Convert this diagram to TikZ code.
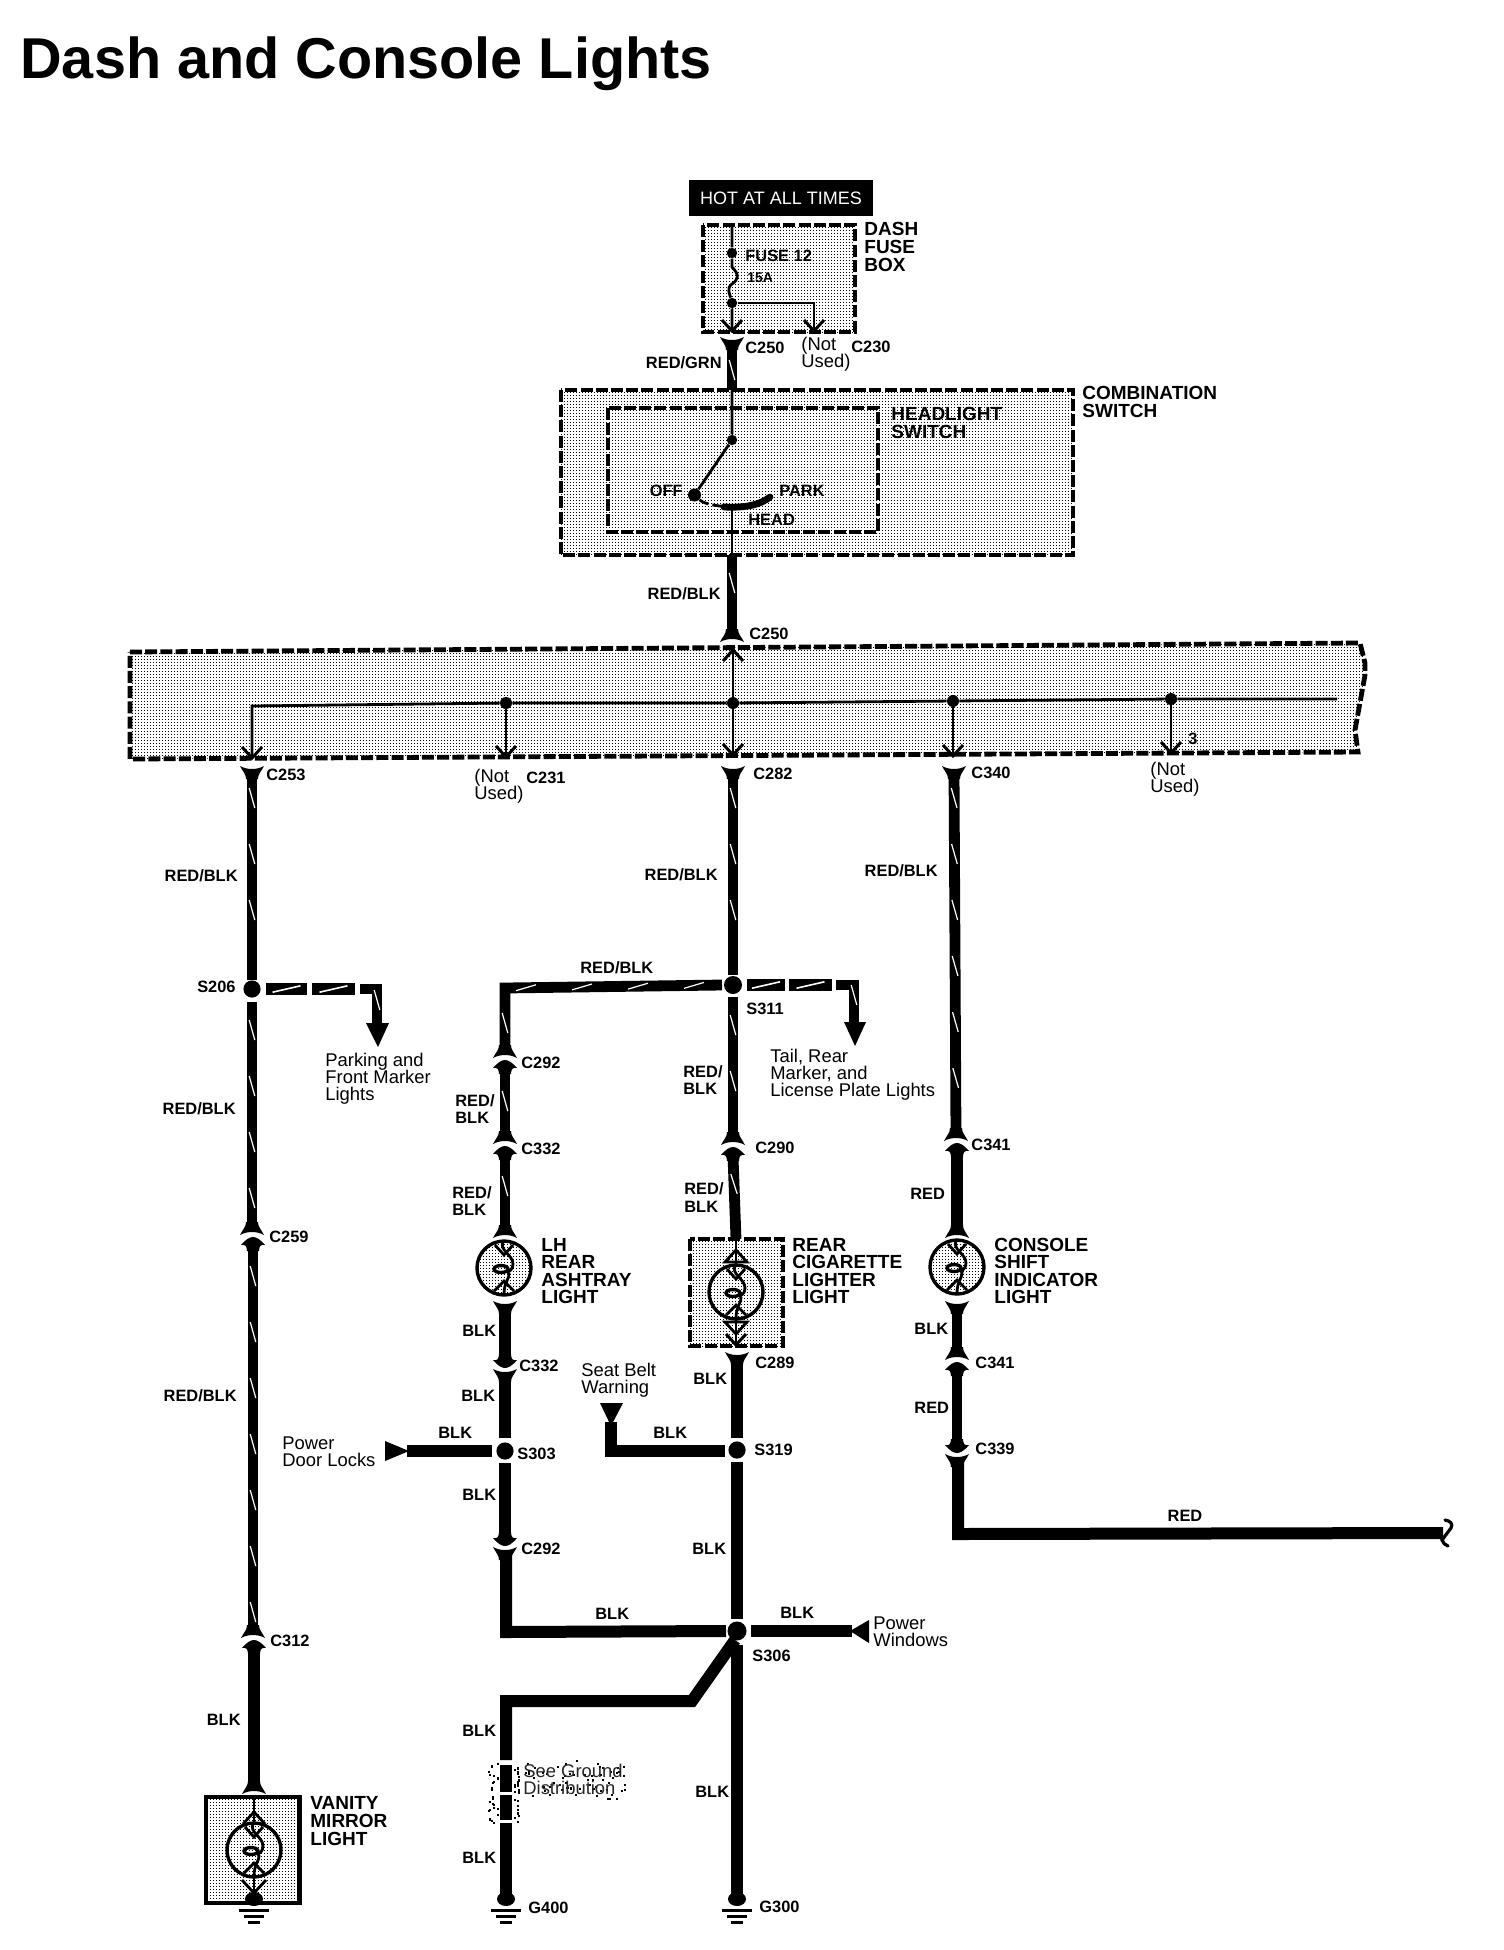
\documentclass[tikz,border=0pt]{standalone}
\usepackage{fontspec}
\setmainfont{Liberation Sans}
\usetikzlibrary{patterns,decorations.markings}
\pgfdeclarepatternformonly{speck}{\pgfqpoint{-0.1pt}{-0.1pt}}{\pgfqpoint{1.6pt}{1.6pt}}{\pgfqpoint{1.5pt}{1.5pt}}{%
  \pgfpathrectangle{\pgfqpoint{0pt}{0pt}}{\pgfqpoint{0.55pt}{0.55pt}}\pgfusepath{fill}}
\tikzset{
  wl/.style={font=\bfseries\fontsize{8.2}{9}\selectfont,inner sep=0pt,text height=6pt,text depth=0pt},
  cl/.style={font=\bfseries\fontsize{9.5}{8.8}\selectfont,inner sep=0pt,align=left},
  tl/.style={font=\fontsize{9.2}{8.6}\selectfont,inner sep=0pt,align=left},
  thinw/.style={line width=1.4pt,line join=miter},
  blkw/.style={line width=6pt,line join=miter},
  redw/.style={line width=5.4pt,line join=miter},
  tracer/.style={line width=5.4pt,line join=miter,postaction={decorate,decoration={markings,
     mark=between positions 14pt and -8pt step 28pt with {\draw[white,line width=0.6pt] (-5pt,-1.4pt) -- (5pt,1.4pt);}}}},
  dashw/.style={line width=5.6pt,postaction={decorate,decoration={markings,
     mark=at position 0.5 with {\draw[white,line width=0.8pt] (-7pt,-1.6pt) -- (7pt,1.6pt);}}}},
  jdot/.style={circle,fill=black,inner sep=0pt,minimum size=8.6pt},
  sdot/.style={circle,fill=black,inner sep=0pt,minimum size=5.2pt},
  stip/.style={pattern=speck,pattern color=black},
  dbox/.style={draw=black,line width=2.4pt,dash pattern=on 6pt off 1.6pt,stip},
  lampsh/.style={circle,draw=black,line width=1.7pt,stip,minimum size=27pt,inner sep=0pt},
  barb/.style={line width=1.5pt}
}
\newcommand{\flare}[3]{\fill[black,shift={(#1,#2)},yscale=#3] (-12,0) .. controls (-5,4) and (5,4) .. (12,0) .. controls (9,6) and (6,8) .. (6,13) -- (-6,13) .. controls (-6,8) and (-9,6) .. cycle;}
\newcommand{\chead}[3]{\fill[black,shift={(#1,#2)},yscale=#3] (-12,7) .. controls (-7,1) and (-3,-1) .. (0,-1) .. controls (3,-1) and (7,1) .. (12,7) .. controls (8,6) and (6,8) .. (6,13) -- (-6,13) .. controls (-6,8) and (-8,6) .. cycle;}
\newcommand{\vbarb}[2]{\draw[barb] (#1-10,#2-11) -- (#1,#2) -- (#1+10,#2-11);}
\newcommand{\lamp}[3]{\node[lampsh] (#1) at (#2,#3) {};
  \begin{scope}[shift={(#2,#3)},line width=1.4pt]
    \draw (-9,-23) -- (0,-13) -- (9,-23);
    \draw (-1,-26) .. controls (-5,-18) and (9,-13) .. (9,-4) .. controls (9,2) and (5,3) .. (3,5);
    \draw[line width=1.7pt] (-3,1) ellipse (7 and 3.5);
    \draw (5,5) .. controls (6,10) and (0,14) .. (0,26);
    \draw (-10,23) -- (0,13) -- (10,23);
  \end{scope}}
\newcommand{\gnd}[3]{\fill[black] (#2,#3) ellipse (9 and 7);
  \coordinate (#1) at (#2,#3);
  \draw[line width=1.5pt] (#2-15,#3+11) -- (#2+15,#3+11);
  \draw[line width=1.5pt] (#2-10,#3+17) -- (#2+10,#3+17);
  \draw[line width=1.5pt] (#2-6,#3+23) -- (#2+6,#3+23);}
\begin{document}
\begin{tikzpicture}[x=0.5pt,y=-0.5pt]
\useasboundingbox (0,0) rectangle (1504,1950);
\fill[white] (0,0) rectangle (1504,1950);

% title
\node[anchor=west,inner sep=0pt,font=\bfseries\fontsize{28.8}{30}\selectfont] (title) at (20,64) {Dash and Console Lights};

% boxes
\node[fill=black,minimum width=92.2pt,minimum height=18pt,inner sep=0pt,text=white,font=\fontsize{9}{10}\selectfont] (hot) at (781,198) {HOT AT ALL TIMES};
\draw[dbox] (703,225) rectangle (855,332);
\draw[dbox] (561,390) rectangle (1073,555);
\draw[dbox] (608,408) rectangle (878,532);
\draw[dbox] (130,652) -- (1360,643) -- (1365,663) -- (1365,675) -- (1355,730) -- (1358,752) -- (130,759) -- cycle;
\draw[dbox] (690,1239) rectangle (783,1346);
\draw[line width=2.4pt,stip] (206,1797) rectangle (299.5,1903);

% fuse box interior
\node[sdot] (f1) at (732,253) {};
\node[sdot] (f2) at (732,303) {};
\coordinate (ftop) at (732,225);
\coordinate (fa) at (732,331);
\coordinate (fbc) at (814,303);
\coordinate (fb) at (814,331);
\draw[thinw] (ftop) -- (f1) -- (732,267) .. controls (740,275) and (738,280) .. (732,284) .. controls (726,288) and (730,295) .. (f2) -- (fa);
\draw[thinw] (f2) -- (fbc) -- (fb);
\vbarb{732}{331}\vbarb{814}{331}

% wires upper
\coordinate (c250t) at (732,342);
\coordinate (cst) at (732,390);
\flare{732}{337}{1}
\draw[tracer] (c250t) -- (cst);
\node[sdot] (piv) at (732,440) {};
\node[sdot,minimum size=6.5pt] (off) at (694.5,495) {};
\coordinate (hd) at (732,507);
\coordinate (pk) at (770,497);
\coordinate (csb) at (732,555);
\coordinate (c250b) at (732,635);
\draw[thinw] (cst) -- (piv) -- (off);
\draw[thinw,dash pattern=on 5pt off 2pt] (off) .. controls (703,503) and (712,506) .. (hd);
\draw[line width=3.4pt,line cap=round] (724,507) .. controls (745,508) and (760,505) .. (pk);
\draw[thinw] (hd) -- (csb);
\draw[tracer] (csb) -- (c250b);
\flare{732}{642}{-1}

% bus
\coordinate (bl) at (252,706);
\coordinate (bla) at (252,758);
\coordinate (br) at (1337,699);
\node[sdot,minimum size=6pt] (b1) at (506,703) {};
\node[sdot,minimum size=6pt] (b2) at (733,703) {};
\node[sdot,minimum size=6pt] (b3) at (953,701) {};
\node[sdot,minimum size=6pt] (b4) at (1171,699) {};
\coordinate (b1a) at (506,757);
\coordinate (b2t) at (733,650);
\coordinate (b2a) at (733,755);
\coordinate (b3a) at (953,756);
\coordinate (b4a) at (1171,753);
\draw[thinw] (bla) -- (bl) -- (b1) -- (b2) -- (b3) -- (b4) -- (br);
\draw[thinw] (b1) -- (b1a);
\draw[thinw] (b2t) -- (b2) -- (b2a);
\draw[thinw] (b3) -- (b3a);
\draw[thinw] (b4) -- (b4a);
\vbarb{252}{758}\vbarb{506}{757}\vbarb{733}{755}\vbarb{953}{756}\vbarb{1171}{753}
\draw[barb] (723,661) -- (733,650) -- (743,661);

% column 252
\node[jdot] (s206) at (252,989) {};
\coordinate (a1) at (252,770);
\coordinate (a2) at (252,980);
\coordinate (a3) at (252,1002);
\coordinate (a4) at (252,1230);
\coordinate (a5) at (253,1248);
\coordinate (a6) at (253,1632);
\coordinate (a7) at (254,1650);
\coordinate (a8) at (254,1790);
\flare{252}{766}{1}
\draw[tracer] (a1) -- (a2);
\draw[tracer] (a3) -- (a4);
\flare{252}{1235}{-1}\chead{253}{1238}{1}
\draw[tracer] (a5) -- (a6);
\flare{253}{1638}{-1}\chead{254}{1641}{1}
\draw[blkw] (a7) -- (a8);
\flare{254}{1794}{-1}
\lamp{lv}{254}{1850}
\coordinate (v1) at (254,1797);
\draw[thinw] (v1) -- (254,1824);
\draw[thinw] (243,1824) -- (254,1812) -- (265,1824);
\gnd{gv}{254}{1899}
\draw[thinw] (242,1880) -- (254,1893) -- (266,1880);
\draw[thinw] (254,1876) -- (254,1895);

% S206 branch
\coordinate (d1a) at (266,989);\coordinate (d1b) at (307,989);
\coordinate (d2a) at (312,989);\coordinate (d2b) at (355,989);
\coordinate (d3a) at (360,989);\coordinate (d3c) at (377,989);\coordinate (d3b) at (377,1025);
\draw[dashw] (d1a) -- (d1b);
\draw[dashw] (d2a) -- (d2b);
\draw[tracer] (d3a) -- (d3c) -- (d3b);
\fill (366,1023) -- (389,1023) -- (378,1047) -- cycle;

% column 733
\node[jdot,minimum size=9pt] (s311) at (733,985) {};
\coordinate (m1) at (733,770);
\coordinate (m2) at (733,975);
\coordinate (m3) at (733,997);
\coordinate (m4) at (733,1140);
\coordinate (m5) at (733,1156);
\coordinate (m6) at (736,1239);
\flare{733}{766}{1}
\draw[tracer] (m1) -- (m2);
\draw[tracer] (m3) -- (m4);
\flare{733}{1145}{-1}\chead{733}{1148}{1}
\draw[tracer] (m5) -- (m6);

% S311 right branch
\coordinate (e1a) at (747,985);\coordinate (e1b) at (785,985);
\coordinate (e2a) at (789,985);\coordinate (e2b) at (832,985);
\coordinate (e3a) at (836,985);\coordinate (e3c) at (854,985);\coordinate (e3b) at (854,1024);
\draw[dashw] (e1a) -- (e1b);
\draw[dashw] (e2a) -- (e2b);
\draw[tracer] (e3a) -- (e3c) -- (e3b);
\fill (844,1022) -- (866,1022) -- (855,1046) -- cycle;

\lamp{lc}{736}{1292}
\draw[thinw] (m6) -- (736,1266);
\draw[thinw] (725,1262) -- (736,1250) -- (747,1262) -- cycle;
\draw[thinw] (725,1322) -- (736,1334) -- (747,1322) -- cycle;
\draw[thinw] (736,1320) -- (736,1345);
\vbarb{736}{1345}
\flare{737}{1352}{1}
\node[jdot] (s319) at (737,1450) {};
\node[jdot,minimum size=9.5pt] (s306) at (737,1631) {};
\coordinate (m7) at (737,1357);
\coordinate (m8) at (737,1438);
\coordinate (m9) at (737,1462);
\coordinate (m10) at (737,1619);
\coordinate (m11) at (737,1645);
\gnd{g300}{737}{1899}
\draw[blkw] (m7) -- (m8);
\draw[blkw] (m9) -- (m10);
\draw[blkw] (m11) -- (g300);

% left branch from S311
\coordinate (k1) at (722,985);
\coordinate (k2) at (505,988);
\coordinate (k3) at (505,1053);
\draw[tracer] (k1) -- (k2) -- (k3);
\flare{505}{1058}{-1}\chead{505}{1061}{1}
\coordinate (k4) at (505,1073);
\coordinate (k5) at (505,1138);
\draw[tracer] (k4) -- (k5);
\flare{505}{1144}{-1}\chead{505}{1147}{1}
\coordinate (k6) at (505,1158);
\coordinate (k7) at (505,1230);
\draw[tracer] (k6) -- (k7);
\flare{505}{1238}{-1}
\lamp{ll}{504}{1268}
\flare{505}{1301}{1}
\coordinate (k8) at (505,1306);
\coordinate (k9) at (505,1358);
\draw[blkw] (k8) -- (k9);
\chead{505}{1367}{-1}
\flare{505}{1369}{1}
\node[jdot] (s303) at (505,1451) {};
\coordinate (k10) at (505,1375);
\coordinate (k11) at (505,1438);
\coordinate (k12) at (505,1463);
\coordinate (k13) at (505,1535);
\draw[blkw] (k10) -- (k11);
\draw[blkw] (k12) -- (k13);
\chead{505}{1545}{-1}\flare{505}{1547}{1}
\coordinate (k14) at (506,1553);
\coordinate (k15) at (506,1632);
\coordinate (k16) at (726,1631);
\draw[blkw] (k14) -- (k15) -- (k16);

% power door locks
\coordinate (pd) at (407,1451);
\coordinate (pde) at (492,1451);
\draw[blkw] (pd) -- (pde);
\fill (385,1441) -- (385,1461) -- (409,1451) -- cycle;

% seat belt
\coordinate (sb1) at (611,1422);
\coordinate (sb2) at (611,1451);
\coordinate (sb3) at (725,1451);
\draw[blkw] (sb1) -- (sb2) -- (sb3);
\fill (600,1403) -- (623,1403) -- (611,1426) -- cycle;

% power windows
\coordinate (pw1) at (751,1631);
\coordinate (pw2) at (852,1631);
\draw[blkw] (pw1) -- (pw2);
\fill (869,1620) -- (869,1643) -- (850,1631) -- cycle;

% ground branch
\coordinate (g1) at (735,1640);
\coordinate (g2) at (692,1701);
\coordinate (g3) at (506,1701);
\coordinate (g4) at (506,1760);
\draw[blkw] (g1) -- (g2) -- (g3) -- (g4);
\draw[line width=6pt] (506,1765) -- (506,1792);
\draw[line width=6pt] (506,1795) -- (506,1820);
\gnd{g400}{506}{1899}
\coordinate (g5) at (506,1823);
\draw[blkw] (g5) -- (g400);
% stipple specks round the "see ground" note (scattered by quadratic residues)
\foreach \i in {1,...,26}{\pgfmathtruncatemacro{\sy}{1762+mod(\i*\i*13,61)}\pgfmathtruncatemacro{\sx}{488+mod(\i*\i*5,11)}
  \fill[black] (\sx,\sy) rectangle +(1.5,1.5);}
\foreach \i in {1,...,26}{\pgfmathtruncatemacro{\sy}{1764+mod(\i*\i*7,59)}\pgfmathtruncatemacro{\sx}{514+mod(\i*\i*3,8)}
  \fill[black] (\sx,\sy) rectangle +(1.5,1.5);}
\foreach \i in {1,...,60}{\pgfmathtruncatemacro{\sx}{522+mod(mod(\i*\i,103)*11,103)}\pgfmathtruncatemacro{\sy}{1760+mod(mod(\i*\i,41)*17,41)}
  \fill[black] (\sx,\sy) rectangle +(1.5,1.5);}

% column 954
\coordinate (r1) at (954,770);
\coordinate (r2) at (956,1136);
\flare{954}{766}{1}
\draw[tracer] (r1) -- (r2);
\flare{956}{1141}{-1}\chead{957}{1144}{1}
\coordinate (r3) at (957,1154);
\coordinate (r4) at (957,1230);
\draw[blkw] (r3) -- (r4);
\flare{957}{1238}{-1}
\lamp{lr}{957}{1267}
\flare{957}{1301}{1}
\coordinate (r5) at (957,1306);
\coordinate (r6) at (957,1350);
\draw[redw] (r5) -- (r6);
\flare{957}{1360}{-1}\chead{957}{1363}{1}
\coordinate (r7) at (957,1373);
\coordinate (r8) at (957,1445);
\draw[redw] (r7) -- (r8);
\chead{957}{1452}{-1}\flare{957}{1454}{1}
\coordinate (r9) at (958,1460);
\coordinate (r10) at (958,1534);
\coordinate (r11) at (1443,1533);
\draw[blkw] (r9) -- (r10) -- (r11);
\draw[line width=1.6pt,line cap=round] (1445,1520) .. controls (1451,1521) and (1453,1524) .. (1451,1528) -- (1442,1540) .. controls (1443,1543) and (1445,1545) .. (1448,1546);

% labels : components
\node[cl,anchor=west] (t1) at (864,247) {DASH\\FUSE\\BOX};
\node[cl,anchor=west] (t2) at (1082,402) {COMBINATION\\SWITCH};
\node[cl,anchor=west] (t3) at (891,423) {HEADLIGHT\\SWITCH};
\node[wl,anchor=west] (t4) at (745,255) {FUSE 12};
\node[wl,anchor=west,font=\bfseries\fontsize{7}{8}\selectfont] (t5) at (747,276) {15A};
\node[wl,anchor=east] (t6) at (683,490) {OFF};
\node[wl,anchor=west] (t7) at (779,490) {PARK};
\node[wl,anchor=west] (t8) at (748,519) {HEAD};
\node[cl,anchor=west] (t9) at (541,1271) {LH\\REAR\\ASHTRAY\\LIGHT};
\node[cl,anchor=west] (t10) at (792,1271) {REAR\\CIGARETTE\\LIGHTER\\LIGHT};
\node[cl,anchor=west] (t11) at (994,1271) {CONSOLE\\SHIFT\\INDICATOR\\LIGHT};
\node[cl,anchor=west] (t12) at (310,1821) {VANITY\\MIRROR\\LIGHT};
% text
\node[tl,anchor=west] (t13) at (325,1079) {Parking and\\Front Marker\\Lights};
\node[tl,anchor=west] (t14) at (770,1075) {Tail, Rear\\Marker, and\\License Plate Lights};
\node[tl,anchor=west] (t15) at (581,1380) {Seat Belt\\Warning};
\node[tl,anchor=west] (t16) at (282,1452) {Power\\Door Locks};
\node[tl,anchor=west] (t17) at (873,1632) {Power\\Windows};
\node[tl,anchor=west,text=black!85] (t18) at (523,1779) {See Ground\\Distribution};
\node[tl,anchor=west] (t19) at (801,354) {(Not\\Used)};
\node[tl,anchor=west] (t20) at (474,786) {(Not\\Used)};
\node[tl,anchor=west] (t21) at (1150,779) {(Not\\Used)};
% connectors
\node[wl,anchor=west] (n1) at (745,347) {C250};
\node[wl,anchor=west] (n2) at (851,346) {C230};
\node[wl,anchor=west] (n3) at (749,633) {C250};
\node[wl,anchor=west] (n4) at (266,774) {C253};
\node[wl,anchor=west] (n5) at (526,777) {C231};
\node[wl,anchor=west] (n6) at (753,773) {C282};
\node[wl,anchor=west] (n7) at (971,772) {C340};
\node[wl,anchor=east] (n8) at (236,986) {S206};
\node[wl,anchor=west] (n9) at (746,1008) {S311};
\node[wl,anchor=west] (n10) at (521,1062) {C292};
\node[wl,anchor=west] (n11) at (521,1148) {C332};
\node[wl,anchor=west] (n12) at (755,1147) {C290};
\node[wl,anchor=west] (n13) at (971,1144) {C341};
\node[wl,anchor=west] (n14) at (269,1236) {C259};
\node[wl,anchor=west] (n15) at (519,1365) {C332};
\node[wl,anchor=west] (n16) at (755,1362) {C289};
\node[wl,anchor=west] (n17) at (975,1362) {C341};
\node[wl,anchor=west] (n18) at (975,1448) {C339};
\node[wl,anchor=west] (n19) at (517,1453) {S303};
\node[wl,anchor=west] (n20) at (754,1449) {S319};
\node[wl,anchor=west] (n21) at (521,1548) {C292};
\node[wl,anchor=west] (n22) at (752,1655) {S306};
\node[wl,anchor=west] (n23) at (270,1640) {C312};
\node[wl,anchor=west] (n24) at (528,1907) {G400};
\node[wl,anchor=west] (n25) at (759,1906) {G300};
\node[wl] (n26) at (1193,738) {3};
% wire colours
\node[wl,anchor=east] (w1) at (722,362) {RED/GRN};
\node[wl,anchor=east] (w2) at (721,593) {RED/BLK};
\node[wl,anchor=east] (w3) at (238,875) {RED/BLK};
\node[wl,anchor=east] (w4) at (718,874) {RED/BLK};
\node[wl,anchor=east] (w5) at (938,870) {RED/BLK};
\node[wl,anchor=west] (w6) at (580,967) {RED/BLK};
\node[wl,anchor=east] (w7) at (236,1108) {RED/BLK};
\node[wl,anchor=east] (w8) at (237,1395) {RED/BLK};
\node[wl,anchor=west] (w9) at (455,1100) {RED/};
\node[wl,anchor=west] (w10) at (455,1117) {BLK};
\node[wl,anchor=west] (w11) at (683,1071) {RED/};
\node[wl,anchor=west] (w12) at (683,1088) {BLK};
\node[wl,anchor=west] (w13) at (452,1192) {RED/};
\node[wl,anchor=west] (w14) at (452,1209) {BLK};
\node[wl,anchor=west] (w15) at (684,1188) {RED/};
\node[wl,anchor=west] (w16) at (684,1206) {BLK};
\node[wl,anchor=west] (w17) at (910,1193) {RED};
\node[wl,anchor=west] (w18) at (462,1330) {BLK};
\node[wl,anchor=west] (w19) at (914,1328) {BLK};
\node[wl,anchor=west] (w20) at (693,1378) {BLK};
\node[wl,anchor=west] (w21) at (461,1395) {BLK};
\node[wl,anchor=west] (w22) at (914,1407) {RED};
\node[wl,anchor=west] (w23) at (438,1432) {BLK};
\node[wl,anchor=west] (w24) at (653,1432) {BLK};
\node[wl,anchor=west] (w25) at (462,1494) {BLK};
\node[wl,anchor=west] (w26) at (692,1548) {BLK};
\node[wl] (w27) at (1185,1515) {RED};
\node[wl,anchor=west] (w28) at (595,1613) {BLK};
\node[wl,anchor=west] (w29) at (780,1612) {BLK};
\node[wl,anchor=east] (w30) at (241,1719) {BLK};
\node[wl,anchor=west] (w31) at (462,1730) {BLK};
\node[wl,anchor=west] (w32) at (695,1791) {BLK};
\node[wl,anchor=west] (w33) at (462,1857) {BLK};
\end{tikzpicture}
\end{document}
